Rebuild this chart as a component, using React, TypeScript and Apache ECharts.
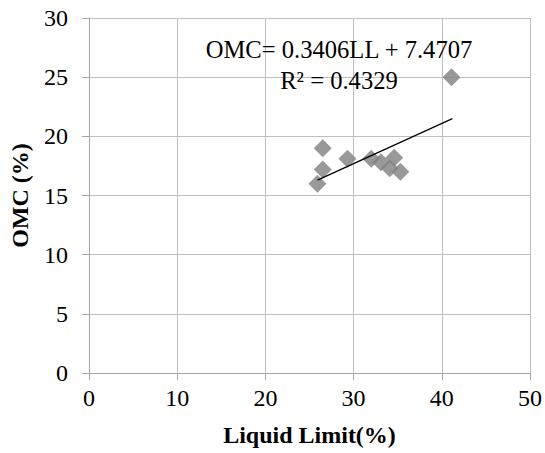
import React, { useEffect, useRef } from "react";
import * as echarts from "echarts";

const liquidLimit = [25.9, 26.5, 26.5, 29.3, 32.0, 33.1, 34.1, 34.6, 35.3, 41.1];
const omc = [16.0, 17.2, 19.0, 18.1, 18.1, 17.8, 17.3, 18.2, 17.0, 25.0];
const trendX = [25.9, 41.2];
const trendY = [16.3, 21.5];
const equationLines = ["OMC= 0.3406LL + 7.4707", "R² = 0.4329"];
const xTitle = "Liquid Limit(%)";
const yTitle = "OMC (%)";

const FONT = "Liberation Serif";

export default function App() {
  const ref = useRef<HTMLDivElement>(null);
  useEffect(() => {
    if (!ref.current) return;
    const chart = echarts.init(ref.current, undefined, { renderer: "svg" });
    const gridColor = "#bfbfbf";
    const axisColor = "#a6a6a6";
    const labelStyle = { fontFamily: FONT, fontSize: 24, color: "#000", fontWeight: "normal" };
    chart.setOption({
      animation: false,
      backgroundColor: "#ffffff",
      textStyle: { fontFamily: FONT },
      grid: { left: 88, right: 13, top: 18, bottom: 80 },
      xAxis: {
        type: "value",
        min: 0,
        max: 50,
        interval: 10,
        name: xTitle,
        nameLocation: "middle",
        nameGap: 50,
        nameTextStyle: { fontFamily: FONT, fontSize: 24, fontWeight: "bold", color: "#000" },
        axisLine: { show: true, onZero: false, lineStyle: { color: axisColor, width: 1 } },
        axisTick: { show: true, length: 7, lineStyle: { color: axisColor } },
        axisLabel: { ...labelStyle, margin: 13 },
        splitLine: { show: true, lineStyle: { color: gridColor, width: 1 } },
      },
      yAxis: {
        type: "value",
        min: 0,
        max: 30,
        interval: 5,
        name: yTitle,
        nameLocation: "middle",
        nameGap: 57,
        nameTextStyle: { fontFamily: FONT, fontSize: 24, fontWeight: "bold", color: "#000" },
        axisLine: { show: true, onZero: false, lineStyle: { color: axisColor, width: 1 } },
        axisTick: { show: true, length: 7, lineStyle: { color: axisColor } },
        axisLabel: { ...labelStyle, margin: 21 },
        splitLine: { show: true, lineStyle: { color: gridColor, width: 1 } },
      },
      series: [
        {
          type: "line",
          data: trendX.map((x, i) => [x, trendY[i]]),
          showSymbol: false,
          symbol: "none",
          lineStyle: { color: "#000", width: 1.3 },
          z: 3,
        },
        {
          type: "scatter",
          data: liquidLimit.map((x, i) => [x, omc[i]]),
          symbol: "diamond",
          symbolSize: [18, 18],
          itemStyle: { color: "#7f7f7f" },
          z: 2,
        },
      ],
      graphic: equationLines.map((t, i) => ({
        type: "text",
        x: 339,
        y: i === 0 ? 49 : 80,
        z: 10,
        style: {
          text: t,
          fontFamily: FONT,
          fontSize: 24.6,
          fill: "#000",
          align: "center",
          verticalAlign: "middle",
        },
      })),
    });
    return () => chart.dispose();
  }, []);
  return <div ref={ref} style={{ width: 545, height: 453, position: "absolute", left: 0, top: 0 }} />;
}
